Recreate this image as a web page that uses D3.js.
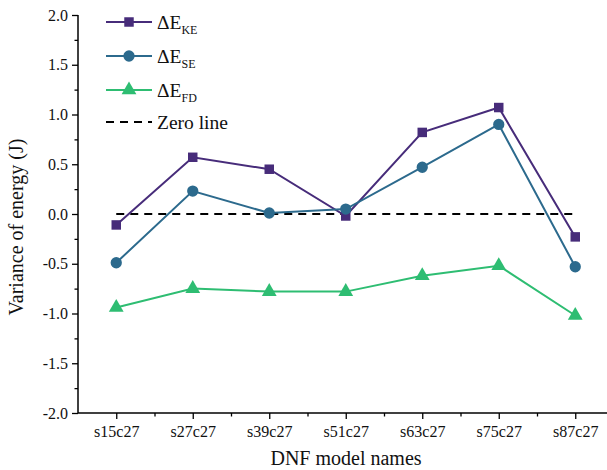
<!DOCTYPE html>
<html>
<head>
<meta charset="utf-8">
<script src="https://cdn.jsdelivr.net/npm/d3@7"></script>
<style>
  html, body { margin: 0; padding: 0; background: #fff; }
  svg { display: block; font-family: "Liberation Serif", "Times New Roman", serif; }
  svg text { font-family: "Liberation Serif", "Times New Roman", serif; }
</style>
</head>
<body>
<svg id="chart" width="607" height="470"></svg>
<script>
// DNF model energy variances
const models = ["s15c27", "s27c27", "s39c27", "s51c27", "s63c27", "s75c27", "s87c27"];
const deltaKE = [-0.11, 0.57, 0.45, -0.02, 0.82, 1.07, -0.23];
const deltaSE = [-0.49, 0.23, 0.01, 0.05, 0.47, 0.90, -0.53];
const deltaFD = [-0.94, -0.75, -0.78, -0.78, -0.62, -0.52, -1.02];
const zeroLine = [0, 0, 0, 0, 0, 0, 0];
const yTicks = [-2.0, -1.5, -1.0, -0.5, 0.0, 0.5, 1.0, 1.5, 2.0];

const svg = d3.select("#chart");
const plotLeft = 78, plotRight = 613.5, plotTop = 15, plotBottom = 413;

const x = d3.scaleLinear().domain([-0.5, 6.5]).range([plotLeft, plotRight]);
const y = d3.scaleLinear().domain([-2, 2]).range([plotBottom, plotTop]);

// tick labels use a plain hyphen for negatives
const fmt = d => d.toFixed(1);

// y axis with major and minor ticks
const yAxis = svg.append("g").attr("transform", `translate(${plotLeft},0)`)
  .call(d3.axisLeft(y).tickValues(yTicks).tickFormat(fmt).tickSize(6).tickPadding(4));
svg.append("g").attr("transform", `translate(${plotLeft},0)`)
  .call(d3.axisLeft(y).tickValues(d3.range(-1.75, 2, 0.5)).tickFormat("").tickSize(3.5))
  .select(".domain").remove();

// x axis with category and in-between ticks
const xAxis = svg.append("g").attr("transform", `translate(0,${plotBottom})`)
  .call(d3.axisBottom(x).tickValues(d3.range(models.length)).tickFormat(i => models[i]).tickSize(6).tickPadding(7));
svg.append("g").attr("transform", `translate(0,${plotBottom})`)
  .call(d3.axisBottom(x).tickValues(d3.range(0.5, 6.6, 1)).tickFormat("").tickSize(3.5))
  .select(".domain").remove();

[yAxis, xAxis].forEach(a => a.attr("font-family", null).attr("font-size", null));
svg.selectAll(".domain").attr("stroke", "#000").attr("stroke-width", 1.5);
svg.selectAll(".tick line").attr("stroke", "#000").attr("stroke-width", 1.3);
svg.selectAll(".tick text").style("font-family", "'Liberation Serif', serif").style("font-size", "16px").attr("fill", "#111");
yAxis.selectAll(".domain").attr("d", `M0,${plotBottom}V${plotTop}`);
xAxis.selectAll(".domain").attr("d", `M${plotLeft},0H${plotRight}`);

// axis titles
svg.append("text").attr("x", 346).attr("y", 465).attr("text-anchor", "middle")
  .attr("font-size", 20).attr("fill", "#111").text("DNF model names");
svg.append("text").attr("transform", "translate(23,227) rotate(-90)")
  .attr("text-anchor", "middle").attr("font-size", 20).attr("fill", "#111").text("Variance of energy (J)");

const line = d3.line().x((d, i) => x(i)).y(d => y(d));

// zero reference
svg.append("path").datum(zeroLine).attr("d", line).attr("fill", "none")
  .attr("stroke", "#000").attr("stroke-width", 2).attr("stroke-dasharray", "8,6");

const series = [
  { key: "KE", values: deltaKE, color: "#472c7a", shape: d3.symbolSquare, size: 90 },
  { key: "SE", values: deltaSE, color: "#2c6a8d", shape: d3.symbolCircle, size: 100 },
  { key: "FD", values: deltaFD, color: "#2ebd72", shape: d3.symbolTriangle, size: 95 }
];

series.forEach(s => {
  svg.append("path").datum(s.values).attr("d", line).attr("fill", "none")
    .attr("stroke", s.color).attr("stroke-width", 2);
  svg.selectAll(null).data(s.values).enter().append("path")
    .attr("d", d3.symbol().type(s.shape).size(s.size))
    .attr("transform", (d, i) => `translate(${x(i)},${y(d)})`)
    .attr("fill", s.color);
});

// legend
const legendRows = [22, 56, 90];
series.forEach((s, k) => {
  const g = svg.append("g").attr("transform", `translate(0,${legendRows[k]})`);
  g.append("line").attr("x1", 106).attr("x2", 152).attr("y1", 0).attr("y2", 0)
    .attr("stroke", s.color).attr("stroke-width", 2);
  g.append("path").attr("d", d3.symbol().type(s.shape).size(s.size)).attr("transform", "translate(129,0)")
    .attr("fill", s.color);
  const t = g.append("text").attr("x", 157).attr("y", 7).attr("font-size", 19.5).attr("fill", "#111");
  t.append("tspan").text("ΔE");
  t.append("tspan").attr("font-size", 12).attr("dy", 5).text(s.key);
});
const zg = svg.append("g").attr("transform", "translate(0,122)");
zg.append("line").attr("x1", 106).attr("x2", 152).attr("y1", 0).attr("y2", 0)
  .attr("stroke", "#000").attr("stroke-width", 2).attr("stroke-dasharray", "8,6");
zg.append("text").attr("x", 157).attr("y", 7).attr("font-size", 19.5).attr("fill", "#111").text("Zero line");
</script>
</body>
</html>
